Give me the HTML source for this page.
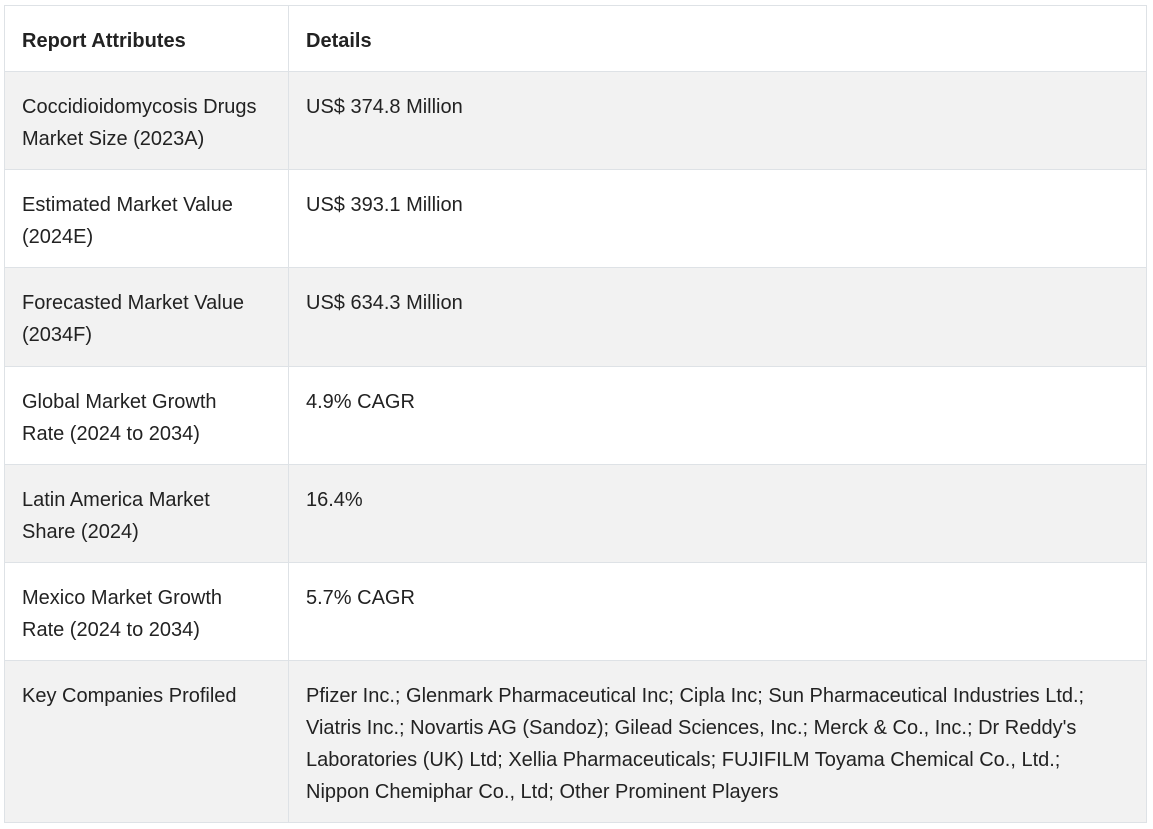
<!DOCTYPE html>
<html><head><meta charset="utf-8"><style>
body{margin:0;width:1153px;height:829px;background:#fff;font-family:"Liberation Sans",sans-serif;color:#222;}
.r{position:absolute;left:4px;width:1143px;border:1px solid #dee2e6;box-sizing:border-box;}
.g{background:#f2f2f2;}
.c1,.c2{position:absolute;top:19px;font-size:20px;line-height:32px;white-space:nowrap;}
.c1{left:17px;width:260px;}
.c2{left:301px;width:830px;}
.d{position:absolute;left:288px;top:5px;width:1px;height:818px;background:#dee2e6;}
b{font-weight:bold;}
</style></head><body>
<div class="r" style="top:5px;height:67px"><div class="c1" style="top:19px"><b>Report Attributes</b></div><div class="c2" style="top:19px"><b>Details</b></div></div>
<div class="r g" style="top:71px;height:99px"><div class="c1">Coccidioidomycosis Drugs<br>Market Size (2023A)</div><div class="c2">US$ 374.8 Million</div></div>
<div class="r" style="top:169px;height:99px"><div class="c1">Estimated Market Value<br>(2024E)</div><div class="c2">US$ 393.1 Million</div></div>
<div class="r g" style="top:267px;height:100px"><div class="c1">Forecasted Market Value<br>(2034F)</div><div class="c2">US$ 634.3 Million</div></div>
<div class="r" style="top:366px;height:99px"><div class="c1">Global Market Growth<br>Rate (2024 to 2034)</div><div class="c2">4.9% CAGR</div></div>
<div class="r g" style="top:464px;height:99px"><div class="c1">Latin America Market<br>Share (2024)</div><div class="c2">16.4%</div></div>
<div class="r" style="top:562px;height:99px"><div class="c1">Mexico Market Growth<br>Rate (2024 to 2034)</div><div class="c2">5.7% CAGR</div></div>
<div class="r g" style="top:660px;height:163px"><div class="c1">Key Companies Profiled</div><div class="c2">Pfizer Inc.; Glenmark Pharmaceutical Inc; Cipla Inc; Sun Pharmaceutical Industries Ltd.;<br>Viatris Inc.; Novartis AG (Sandoz); Gilead Sciences, Inc.; Merck &amp; Co., Inc.; Dr Reddy's<br>Laboratories (UK) Ltd; Xellia Pharmaceuticals; FUJIFILM Toyama Chemical Co., Ltd.;<br>Nippon Chemiphar Co., Ltd; Other Prominent Players</div></div>
<div class="d"></div>
</body></html>
